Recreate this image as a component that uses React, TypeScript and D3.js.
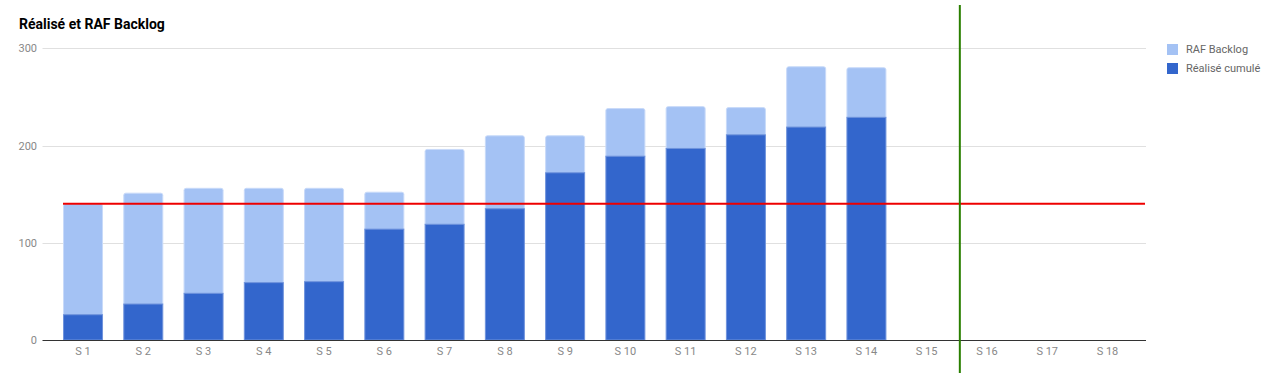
import React from 'react';
import * as d3 from 'd3';

// semaines
const weeks = ['S 1', 'S 2', 'S 3', 'S 4', 'S 5', 'S 6', 'S 7', 'S 8', 'S 9', 'S 10', 'S 11', 'S 12', 'S 13', 'S 14', 'S 15', 'S 16', 'S 17', 'S 18'];
// réalisé cumulé
const realise = [26, 37, 48, 59, 60, 114, 119, 135, 172, 189, 197, 211, 219, 229];
// reste à faire backlog
const rafBacklog = [114, 114, 108, 97, 96, 38, 77, 75, 38, 49, 43, 28, 62, 51];
const yTicks = [0, 100, 200, 300];
const objectif = 140; // ligne rouge
const semaineCourante = 15.55; // ligne verte (position en semaines)

const BLUE = '#3366cc';
const LIGHT = '#a4c2f4';

export default function App() {
  const width = 1281;
  const height = 373;

  const xScale = d3.scaleBand<string>()
    .domain(weeks)
    .range([52.9, 1137.6])
    .paddingInner(0.353)
    .paddingOuter(0.1765);

  const yScale = d3.scaleLinear()
    .domain([0, 300])
    .range([340, 48.3]);

  const step = xScale.step();
  const greenX = 52.9 + (semaineCourante - 0.5) * step;
  const bw = xScale.bandwidth();

  return (
    <svg width={width} height={height}
      style={{ position: 'absolute', left: 0, top: 0, fontFamily: 'Roboto, Arial, sans-serif' }}>
      <rect width={width} height={height} fill="white" />
      <text x={19} y={29} fontSize={14} fontWeight="bold" fill="#000">Réalisé et RAF Backlog</text>

      {/* grille */}
      {yTicks.map(t => (
        <g key={t}>
          {t !== 0 && (
            <line x1={42.5} x2={1146} y1={Math.round(yScale(t)) + 0.5} y2={Math.round(yScale(t)) + 0.5}
              stroke="#e0e0e0" strokeWidth={1} />
          )}
          <text x={37} y={yScale(t) + 4} fontSize={11} fill="#888" textAnchor="end">{t}</text>
        </g>
      ))}

      {/* barres empilées */}
      {realise.map((r, i) => {
        const x = xScale(weeks[i])!;
        const total = r + rafBacklog[i];
        const yTop = yScale(total);
        const yMid = yScale(r);
        return (
          <g key={weeks[i]}>
            <rect x={x} y={yTop} width={bw} height={yMid - yTop + 2} rx={2}
              fill={LIGHT} stroke="#c8daf9" strokeWidth={1} />
            <rect x={x} y={yMid} width={bw} height={yScale(0) - yMid}
              fill={BLUE} stroke="#6f93dc" strokeWidth={1} />
          </g>
        );
      })}

      {/* axe x */}
      <line x1={42.5} x2={1146} y1={340.5} y2={340.5} stroke="#333" strokeWidth={1} />
      {weeks.map(w => (
        <text key={w} x={xScale(w)! + bw / 2} y={355} fontSize={11} fill="#888" textAnchor="middle">{w}</text>
      ))}

      {/* objectif */}
      <line x1={63} x2={1145} y1={yScale(objectif)} y2={yScale(objectif)} stroke="#ee0000" strokeWidth={2} />
      {/* semaine courante */}
      <line x1={greenX} x2={greenX} y1={5} y2={373} stroke="#2a7f00" strokeWidth={2} />

      {/* légende */}
      <rect x={1167} y={44} width={11} height={11} fill={LIGHT} />
      <text x={1186} y={53} fontSize={11} fill="#666">RAF Backlog</text>
      <rect x={1167} y={63} width={11} height={11} fill={BLUE} />
      <text x={1186} y={72} fontSize={11} fill="#666">Réalisé cumulé</text>
    </svg>
  );
}
